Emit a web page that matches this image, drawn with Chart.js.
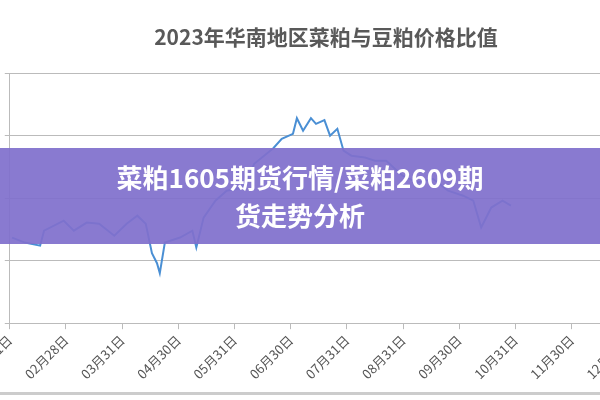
<!DOCTYPE html>
<html><head><meta charset="utf-8">
<script src="https://cdn.jsdelivr.net/npm/chart.js@4"></script>
<style>
body{margin:0;width:600px;height:400px;overflow:hidden;background:#fff;font-family:"Noto Sans CJK SC";position:relative;}
#wrap{position:absolute;left:-32px;top:0;width:716px;height:385px;}
#line{position:absolute;left:0;top:392px;width:600px;height:3px;background:#ccc;}
#banner{position:absolute;left:0;top:148px;width:600px;height:96px;background:rgba(128,112,204,0.93);color:#fff;font-weight:bold;font-size:26px;line-height:38px;text-align:center;padding-top:10px;box-sizing:border-box;}
</style></head><body>
<div id="wrap"><canvas id="c"></canvas></div>
<div id="line"></div>
<div id="banner">菜粕1605期货行情/菜粕2609期<br>货走势分析</div>
<script>
const tickLabels=["01月31日","02月28日","03月31日","04月30日","05月31日","06月30日","07月31日","08月31日","09月30日","10月31日","11月30日","12月31日"];
const monthPos=[0.04,0.27,0.54,0.61,0.96,1.14,1.37,1.59,1.86,2.08,2.27,2.42,2.53,2.62,2.67,2.76,3.03,3.25,3.32,3.45,3.66,3.86,4.15,4.35,4.69,4.84,5.04,5.11,5.22,5.36,5.45,5.60,5.70,5.83,5.94,6.08,6.32,6.50,6.70,6.99,7.26,7.53,7.80,8.07,8.25,8.39,8.57,8.77,8.92];
const ratio=[1.37,1.29,1.24,1.48,1.64,1.48,1.61,1.59,1.40,1.59,1.72,1.59,1.12,0.96,0.80,1.29,1.37,1.48,1.21,1.69,1.96,2.12,2.17,2.55,2.80,2.95,3.03,3.28,3.08,3.28,3.19,3.25,3.00,3.11,2.76,2.68,2.65,2.60,2.60,2.36,2.25,2.31,2.12,2.04,1.96,1.53,1.85,1.96,1.88];
new Chart(document.getElementById('c'),{
 type:'scatter',
 data:{datasets:[{data:monthPos.map((m,i)=>({x:m,y:ratio[i]})),showLine:true,borderColor:'#4a8fd4',borderWidth:2,pointRadius:0,tension:0}]},
 options:{responsive:true,maintainAspectRatio:false,animation:false,
  layout:{padding:0},
  plugins:{legend:{display:false},tooltip:{enabled:false},
   title:{display:true,text:'2023年华南地区菜粕与豆粕价格比值',color:'#595959',font:{size:21,weight:'bold',family:'Noto Sans CJK SC'},padding:{top:24,bottom:24}}},
  scales:{
   x:{type:'linear',min:0,max:12,afterBuildTicks:a=>{a.ticks=tickLabels.map((_,i)=>({value:i}));},
      grid:{drawOnChartArea:false,color:'#bbb',tickLength:6},border:{color:'#bbb'},
      ticks:{callback:(v)=>tickLabels[v],maxRotation:45,minRotation:45,color:'#555',font:{size:13,family:'Noto Sans CJK SC'},autoSkip:false}},
   y:{min:0,max:4,afterFit:a=>{a.width=8;},ticks:{display:false,stepSize:1},grid:{color:'#bbb',drawTicks:true,tickLength:5},border:{color:'#bbb'}}
  }}
});
</script></body></html>
